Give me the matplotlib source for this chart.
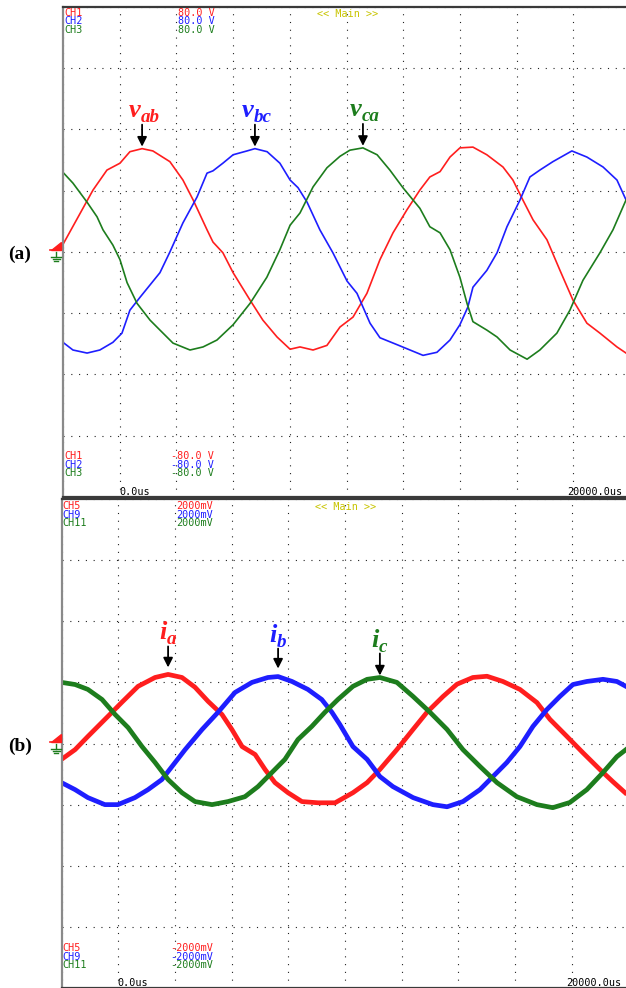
import numpy as np
import matplotlib
matplotlib.use("Agg")
from matplotlib import pyplot as plt
from matplotlib.lines import Line2D
from matplotlib.patches import Polygon

W, H = 626, 988

# (a) line voltages, 80 V/div, time in us
t_vab = [0, 1060, 1550, 2010, 2360, 2790, 3170, 3770, 4230, 4590, 5080, 5290, 5640, 6000, 6600,
         7050, 7550, 8010, 8360, 8820, 9310, 9770, 10230, 10720, 11180, 11640, 12130, 12590,
         12940, 13300, 13650, 14000, 14460, 14950, 15520, 15870, 16220, 16580, 17070, 17530,
         17990, 18480, 18940, 19540, 19860]
v_ab = [10, 81, 107, 116, 131, 135, 132, 118, 94, 68, 29, 13, -1, -27, -63, -89, -111, -127, -124,
        -128, -122, -98, -85, -54, -10, 25, 55, 81, 98, 105, 124, 136, 137, 127, 111, 94, 68, 42, 16,
        -24, -63, -93, -106, -124, -132]

t_vbc = [0, 350, 850, 1300, 1760, 2080, 2360, 2720, 3070, 3420, 3770, 4230, 4730, 5080, 5290, 5640,
         6000, 6490, 6770, 7200, 7650, 8010, 8290, 8610, 9060, 9520, 10020, 10370, 10830, 11180,
         11780, 12240, 12700, 13190, 13650, 14000, 14280, 14460, 14950, 15310, 15660, 16120,
         16470, 16820, 17280, 17950, 18480, 19050, 19540, 19860]
v_bc = [-118, -128, -132, -128, -118, -106, -76, -59, -43, -27, 0, 38, 72, 103, 106, 116, 127, 132,
        135, 131, 116, 94, 84, 65, 29, -1, -38, -54, -93, -112, -121, -128, -135, -131, -115, -95,
        -72, -46, -24, -1, 33, 68, 98, 107, 118, 132, 124, 111, 94, 68]

t_vca = [0, 350, 850, 1200, 1410, 1760, 2010, 2260, 2610, 3070, 3420, 3880, 4480, 4940, 5430, 6000,
         6600, 7190, 7650, 8010, 8360, 8820, 9310, 9770, 10120, 10580, 11080, 11530, 11990, 12590,
         12940, 13300, 13650, 14000, 14250, 14460, 14950, 15310, 15770, 16370, 16820, 17420,
         17880, 18340, 18940, 19400, 19860]
v_ca = [104, 90, 65, 46, 29, 9, -10, -40, -67, -89, -102, -119, -128, -124, -115, -95, -67, -33, 3,
        35, 51, 85, 110, 125, 133, 136, 127, 107, 84, 57, 33, 25, 3, -33, -67, -91, -102, -111,
        -128, -140, -128, -106, -76, -37, -1, 29, 68]

# (b) phase currents, probe output 2000 mV/div
t_ia = [0, 480, 930, 1640, 2120, 2700, 3300, 3760, 4250, 4710, 5170, 5660, 6010, 6370, 6830, 7180,
        7530, 7990, 8480, 9050, 9650, 10280, 10780, 11230, 11830, 12400, 12890, 13460, 13950,
        14510, 15010, 15570, 16170, 16770, 17230, 17830, 18390, 18990, 19450, 19880]
i_a = [-520, -200, 230, 890, 1340, 1870, 2160, 2260, 2160, 1840, 1380, 950, 460, -100, -360, -850,
       -1280, -1610, -1900, -1940, -1940, -1610, -1280, -850, -200, 460, 1020, 1540, 1940, 2160,
       2200, 2030, 1770, 1340, 790, 230, -300, -850, -1250, -1610]

t_ib = [0, 480, 930, 1530, 1990, 2590, 3050, 3540, 3900, 4360, 4960, 5520, 6120, 6720, 7280, 7640,
        8130, 8690, 9180, 9540, 9820, 10280, 10780, 11230, 11690, 12400, 13100, 13600, 14160,
        14760, 15220, 15710, 16170, 16630, 17120, 17580, 18040, 18530, 19100, 19590, 19910]
i_b = [-1280, -1510, -1770, -2000, -2000, -1770, -1510, -1180, -750, -200, 460, 1020, 1670, 2000,
       2160, 2190, 2030, 1770, 1440, 1020, 620, -100, -520, -1080, -1410, -1770, -2000, -2070,
       -1900, -1510, -1080, -620, -100, 560, 1110, 1540, 1930, 2030, 2100, 2030, 1870]

t_ic = [0, 480, 930, 1430, 1890, 2350, 2840, 3300, 3760, 4250, 4710, 5310, 5870, 6470, 6930, 7420,
        7880, 8340, 8830, 9290, 9750, 10280, 10780, 11230, 11830, 12400, 13000, 13600, 14160,
        14760, 15360, 16060, 16770, 17330, 17930, 18530, 19100, 19590, 19910]
i_c = [2000, 1930, 1770, 1440, 950, 520, -100, -620, -1180, -1610, -1900, -2000, -1900, -1740,
       -1410, -950, -520, 130, 560, 1020, 1440, 1870, 2100, 2160, 2000, 1540, 1020, 460, -200,
       -750, -1280, -1740, -2000, -2100, -1930, -1510, -950, -430, -200]

RED = '#ff1e1e'
BLUE = '#1e1eff'
GREEN = '#1d7d1d'
MAIN = '#c8c400'
PT = 0.72  # points per pixel at dpi 100

plt.rcParams['font.family'] = ['DejaVu Sans']


def px(x, y):
    return x / W, 1 - y / H


fig = plt.figure(figsize=(W / 100, H / 100), dpi=100)


def scope_axes(left, top, bottom, vdiv):
    l, b = px(left, bottom)
    ax = fig.add_axes([l, b, 567 / W, (bottom - top) / H])
    ax.set_xlim(0, 20000)
    ax.set_ylim(-4 * vdiv, 4 * vdiv)
    ax.set_xticks(np.arange(0, 20001, 2000))
    ax.set_yticks(np.arange(-4, 5) * vdiv)
    ax.tick_params(length=0, labelbottom=False, labelleft=False)
    ax.grid(True, color='#222222', lw=0.8, ls=(0, (1, 6)))
    ax.spines['left'].set_color('#8a8a8a')
    ax.spines['left'].set_linewidth(1.6)
    for s in ('top', 'bottom'):
        ax.spines[s].set_color('#3a3a3a')
        ax.spines[s].set_linewidth(1.6)
    ax.spines['right'].set_visible(False)
    return ax


def scope_text(x, y, s, color='black'):
    fig.text(*px(x, y), s, family='DejaVu Sans Mono', size=7.3, color=color,
             ha='left', va='center')


def ground_mark(yc):
    # red level flag and green ground symbol left of the screen
    fig.add_artist(Polygon([px(51, yc - 2), px(61, yc - 2), px(61, yc - 10)], closed=True,
                           color=RED, transform=fig.transFigure))
    fig.add_artist(Line2D(*zip(px(50, yc - 2), px(61, yc - 2)), color=RED, lw=1.2,
                          transform=fig.transFigure))
    fig.add_artist(Line2D(*zip(px(56, yc), px(56, yc + 5)), color=GREEN, lw=1,
                          transform=fig.transFigure))
    for k, half in enumerate((5, 3.5, 2)):
        fig.add_artist(Line2D(*zip(px(56 - half, yc + 5 + 2 * k), px(56 + half, yc + 5 + 2 * k)),
                              color=GREEN, lw=1, transform=fig.transFigure))


def peak_label(ax, t, v, main, sub, color, tip, tail, base, sub_drop, size):
    t = np.asarray(t)
    v = np.asarray(v)
    win = t < 12000
    k = np.argmax(np.where(win, v, -np.inf))
    tp, vp = t[k], v[k]
    ax.annotate('', xy=(tp, vp), xytext=(0, tail * PT), textcoords='offset points',
                arrowprops=dict(arrowstyle='-|>', color='black', lw=1.3, mutation_scale=14,
                                shrinkA=0, shrinkB=tip * PT))
    ax.annotate(main, xy=(tp, vp), xytext=(-1.5 * PT, base * PT), textcoords='offset points',
                ha='right', va='baseline', color=color, family='Liberation Serif',
                weight='bold', style='italic', size=size)
    ax.annotate(sub, xy=(tp, vp), xytext=(-1 * PT, (base - sub_drop) * PT),
                textcoords='offset points', ha='left', va='baseline', color=color,
                family='Liberation Serif', weight='bold', style='italic', size=size * 0.72)


# ---- panel (a)
ax1 = scope_axes(63, 7, 497, 80)
ax1.plot(t_vab, v_ab, color=RED, lw=1.2)
ax1.plot(t_vbc, v_bc, color=BLUE, lw=1.2)
ax1.plot(t_vca, v_ca, color=GREEN, lw=1.2)
peak_label(ax1, t_vab, v_ab, 'v', 'ab', RED, 2, 24, 32, 5, 19)
peak_label(ax1, t_vbc, v_bc, 'v', 'bc', BLUE, 2, 24, 32, 5, 19)
peak_label(ax1, t_vca, v_ca, 'v', 'ca', GREEN, 2, 24, 32, 5, 19)

# ---- panel (b)
ax2 = scope_axes(61.5, 499, 988, 2000)
ax2.plot(t_ia, i_a, color=RED, lw=3.4, solid_joinstyle='round')
ax2.plot(t_ib, i_b, color=BLUE, lw=3.4, solid_joinstyle='round')
ax2.plot(t_ic, i_c, color=GREEN, lw=3.4, solid_joinstyle='round')
peak_label(ax2, t_ia, i_a, 'i', 'a', RED, 7, 28, 35, 5, 19)
peak_label(ax2, t_ib, i_b, 'i', 'b', BLUE, 8, 28, 35, 5, 19)
peak_label(ax2, t_ic, i_c, 'i', 'c', GREEN, 2, 24, 30, 5, 19)

# scope readouts
for y0, names, scale in ((13, ('CH1', 'CH2', 'CH3'), '80.0 V'),
                         (506, ('CH5', 'CH9', 'CH11'), '2000mV')):
    for k, (name, col) in enumerate(zip(names, (RED, BLUE, GREEN))):
        scope_text(64 if y0 < 100 else 62, y0 + 8.5 * k, name, col)
        scope_text(178 if y0 < 100 else 176, y0 + 8.5 * k, scale, col)
    scope_text(317 if y0 < 100 else 315, y0 + 1, '<< Main >>', MAIN)

for y0, names, scale in ((456, ('CH1', 'CH2', 'CH3'), '-80.0 V'),
                         (948, ('CH5', 'CH9', 'CH11'), '-2000mV')):
    for k, (name, col) in enumerate(zip(names, (RED, BLUE, GREEN))):
        scope_text(64 if y0 < 500 else 62, y0 + 8.5 * k, name, col)
        scope_text(171 if y0 < 500 else 170, y0 + 8.5 * k, scale, col)

scope_text(119, 492, '0.0us')
scope_text(567, 492, '20000.0us')
scope_text(117, 983, '0.0us')
scope_text(566, 983, '20000.0us')

ground_mark(252)
ground_mark(744)

fig.text(*px(20, 254), '(a)', family='Liberation Serif', weight='bold', size=14,
         ha='center', va='center')
fig.text(*px(20, 746), '(b)', family='Liberation Serif', weight='bold', size=14,
         ha='center', va='center')

fig.savefig('out.png', dpi=100)
